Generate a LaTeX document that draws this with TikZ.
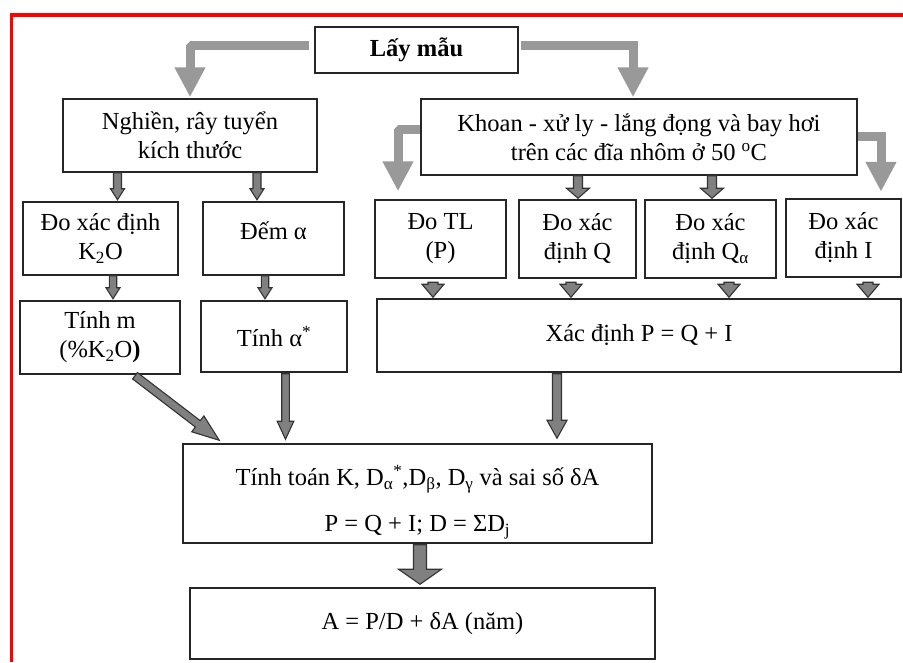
\documentclass[tikz,border=0pt]{standalone}
\usepackage{fontspec}
\setmainfont{Liberation Serif}
\usetikzlibrary{arrows.meta,calc}

% outlined block arrow: [style]{from}{to}{shaft half}{head half}{head length}
\newcommand\blockarrow[6][]{%
  \coordinate (ba-s) at #2;
  \coordinate (ba-t) at #3;
  \coordinate (ba-h) at ($(ba-t)!#6!(ba-s)$);
  \filldraw[blockarrow,#1] ($(ba-s)!#4!90:(ba-t)$) -- ($(ba-h)!#4!90:(ba-t)$) -- ($(ba-h)!#5!90:(ba-t)$)
    -- (ba-t) -- ($(ba-h)!#5!-90:(ba-t)$) -- ($(ba-h)!#4!-90:(ba-t)$) -- ($(ba-s)!#4!-90:(ba-t)$) -- cycle;
}

\begin{document}
\begin{tikzpicture}[x=1pt,y=-1pt,
    box/.style={draw=black!85,line width=1.5pt,align=center,inner sep=0pt,font=\fontsize{24.5pt}{29pt}\selectfont},
    bentarrow/.style={draw=black!40,line width=9pt,-{Triangle[length=30pt,width=29pt]}},
    blockarrow/.style={fill=black!50,draw=black!80,line width=1.1pt}]
    \useasboundingbox (0,0) rectangle (903,662);
    \draw[red,line width=3.3pt] (11.7,662) -- (11.7,15) -- (903,15);

    \node[box,minimum width=203pt,minimum height=46pt] (lay) at (416.5,50) {\textbf{Lấy mẫu}};
    \node[box,minimum width=254pt,minimum height=73pt] (nghien) at (190,135.5) {Nghiền, rây tuyển\\kích thước};
    \node[box,minimum width=436pt,minimum height=76pt] (khoan) at (639,137) {Khoan - xử ly - lắng đọng và bay hơi\\trên các đĩa nhôm ở 50 \textsuperscript{o}C};

    \node[box,minimum width=155pt,minimum height=73pt] (k2o) at (100.5,238.5) {Đo xác định\\K\textsubscript{2}O};
    \node[box,minimum width=141pt,minimum height=73pt] (dem) at (273.5,238.5) {Đếm α\\[-14pt]\mbox{}};
    \node[box,minimum width=131pt,minimum height=78pt] (dotl) at (440.5,239) {Đo TL\\(P)};
    \node[box,minimum width=117pt,minimum height=78pt] (doq) at (577.5,239) {Đo xác\\định Q};
    \node[box,minimum width=131pt,minimum height=78pt] (doqa) at (710.5,239) {Đo xác\\định Q\textsubscript{α}};
    \node[box,minimum width=115pt,minimum height=78pt] (doi) at (843.5,238) {Đo xác\\định I};

    \node[box,minimum width=160pt,minimum height=73pt] (tinhm) at (100,337.5) {Tính m\\(\%K\textsubscript{2}O\textbf{)}};
    \node[box,minimum width=146pt,minimum height=71pt] (tinha) at (274,336.5) {Tính α\textsuperscript{*}};
    \node[box,minimum width=524pt,minimum height=73pt] (xacdinh) at (639,335.5) {Xác định P = Q + I};

    \node[box,minimum width=469pt,minimum height=99pt] (tinhtoan) at (417.5,493.5) {\rule{0pt}{37pt}Tính toán K, D\textsubscript{α}\textsuperscript{*},D\textsubscript{β}, D\textsubscript{γ} và sai số δA\\[17pt]P = Q + I; D = ΣD\textsubscript{j}};
    \node[box,minimum width=465pt,minimum height=71pt] (ketqua) at (422.5,623.5) {A = P/D + δA (năm)};

    \draw[bentarrow,line join=bevel] ([shift={(-5,-4.5)}]lay.west) -| ([yshift=1pt]nghien.north);
    \draw[bentarrow] ([shift={(2,-4.5)}]lay.east) -| ([shift={(-6,-1)}]khoan.north);
    \draw[bentarrow,line join=bevel] ([yshift=8pt]khoan.west) -| ([shift={(-42.5,-8)}]dotl.north);
    \draw[bentarrow] ([yshift=1pt]khoan.east) -| ([shift={(37.5,-6.5)}]doi.north);

    \blockarrow{($(k2o.north |- nghien.south)+(17,0)$)}{($(k2o.north)+(17,-1.5)$)}{4pt}{7pt}{11pt}
    \blockarrow{($(dem.north |- nghien.south)+(-16.5,0)$)}{($(dem.north)+(-16.5,-1.5)$)}{4pt}{7pt}{11pt}
    \blockarrow{($(tinhm.north |- k2o.south)+(13,0)$)}{($(tinhm.north)+(13,-1.5)$)}{3.7pt}{7pt}{11pt}
    \blockarrow{($(tinha.north |- dem.south)+(-9,0)$)}{($(tinha.north)+(-9,-1.5)$)}{3.7pt}{7pt}{11pt}

    \blockarrow{($(doq.north |- khoan.south)+(0.5,0)$)}{($(doq.north)+(0.5,-1)$)}{4.5pt}{11.5pt}{10pt}
    \blockarrow{($(doqa.north |- khoan.south)+(1.5,0)$)}{($(doqa.north)+(1.5,-1)$)}{4.5pt}{11.5pt}{10pt}

    \blockarrow{($(dotl.south)+(-7.5,3.5)$)}{($(dotl.south |- xacdinh.north)+(-7.5,-1)$)}{5pt}{11pt}{13pt}
    \blockarrow{($(doq.south)+(-6.5,3.5)$)}{($(doq.south |- xacdinh.north)+(-6.5,-1)$)}{5pt}{11pt}{13pt}
    \blockarrow{($(doqa.south)+(18.5,3.5)$)}{($(doqa.south |- xacdinh.north)+(18.5,-1)$)}{5pt}{11pt}{13pt}
    \blockarrow{($(doi.south)+(24.5,4.5)$)}{($(doi.south |- xacdinh.north)+(24.5,-1)$)}{5pt}{11pt}{13pt}

    \blockarrow{($(tinhm.south)+(35,1)$)}{($(tinhtoan.north west)+(37,-3)$)}{4pt}{10pt}{27pt}
    \blockarrow{($(tinha.south)+(11.5,1)$)}{($(tinha.south |- tinhtoan.north)+(11.5,-4)$)}{3.8pt}{8.3pt}{18pt}
    \blockarrow{($(xacdinh.south)+(-82,1)$)}{($(xacdinh.south |- tinhtoan.north)+(-82,-5)$)}{4.5pt}{10pt}{18pt}
    \blockarrow{($(tinhtoan.south)+(2.5,1)$)}{($(ketqua.north)+(-2.5,-3)$)}{6.5pt}{21.5pt}{15pt}
\end{tikzpicture}
\end{document}
